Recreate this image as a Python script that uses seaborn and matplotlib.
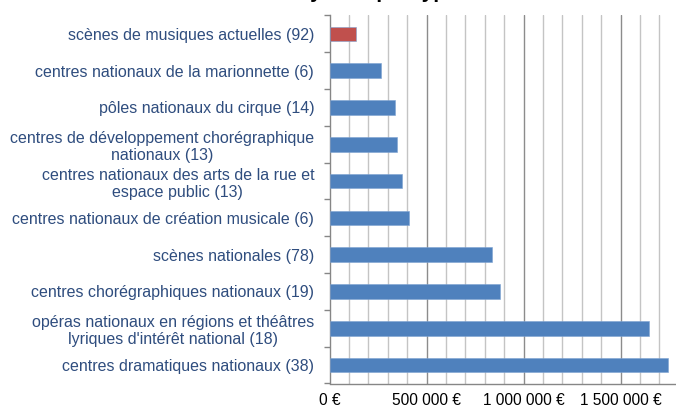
import matplotlib
matplotlib.use("Agg")
import matplotlib.pyplot as plt
import matplotlib.ticker as ticker
import numpy as np
import pandas as pd
import seaborn as sns

categories = [
    "scènes de musiques actuelles (92)",
    "centres nationaux de la marionnette (6)",
    "pôles nationaux du cirque (14)",
    "centres de développement chorégraphique\nnationaux (13)",
    "centres nationaux des arts de la rue et\nespace public (13)",
    "centres nationaux de création musicale (6)",
    "scènes nationales (78)",
    "centres chorégraphiques nationaux (19)",
    "opéras nationaux en régions et théâtres\nlyriques d'intérêt national (18)",
    "centres dramatiques nationaux (38)",
]
amounts = [135000, 265000, 336000, 346000, 375000, 410000,
           836000, 879000, 1648000, 1743000]
highlight = "scènes de musiques actuelles (92)"
x_ticks = [0, 500000, 1000000, 1500000]
x_tick_labels = ["0 €", "500 000 €", "1 000 000 €", "1 500 000 €"]
title = "Subvention moyenne par type de label"

sns.set_theme(style="white")
plt.rcParams["font.family"] = ["Liberation Sans", "DejaVu Sans"]

BLUE = "#4F81BD"
RED = "#C0504D"
LABEL_COLOR = "#2F4D7E"

df = pd.DataFrame({"label": categories, "amount": amounts})
palette = {c: (RED if c == highlight else BLUE) for c in categories}

fig = plt.figure(figsize=(6.76, 4.09), dpi=100)
ax = fig.add_axes([329.5 / 676, 25.5 / 409, 1 - 329.5 / 676, (383.5 - 15.5) / 409])

sns.barplot(data=df, x="amount", y="label", hue="label", palette=palette,
            order=categories, legend=False, width=0.4, orient="h",
            saturation=1, edgecolor="#7EA3D2", linewidth=0.4, ax=ax, zorder=3)

ax.set_xlim(0, 1786000)
ax.set_ylim(len(categories) - 0.5, -0.5)

# gridlines: light every 100k, darker every 500k
ax.xaxis.set_major_locator(ticker.FixedLocator(x_ticks))
ax.xaxis.set_minor_locator(ticker.MultipleLocator(100000))
ax.set_xticklabels(x_tick_labels)
ax.grid(False)
for v in np.arange(100000, 1786000, 100000):
    major = int(round(v)) % 500000 == 0
    ax.axvline(v, color="#8C8C8C" if major else "#C4C4C4", linewidth=1.0, zorder=1)

ax.set_xlabel("")
ax.set_ylabel("")

for s in ["top", "right"]:
    ax.spines[s].set_visible(False)
for s in ["left", "bottom"]:
    ax.spines[s].set_color("#868686")
    ax.spines[s].set_linewidth(1.0)

ax.tick_params(axis="x", which="major", direction="out", length=4, width=1,
               color="#868686", pad=3, labelsize=11.2, labelcolor="black")
ax.tick_params(axis="x", which="minor", length=0)
ax.yaxis.set_minor_locator(ticker.FixedLocator(np.arange(-0.5, len(categories), 1)))
ax.tick_params(axis="y", which="minor", direction="out", length=4, width=1,
               color="#868686", left=True)
ax.tick_params(axis="y", which="major", length=0, pad=11, labelsize=11.5,
               labelcolor=LABEL_COLOR)
for t in ax.get_yticklabels():
    t.set_multialignment("center")
    t.set_linespacing(1.2)

fig.text(350 / 676, 1 + 1.5 / 409, title, ha="center", va="baseline",
         fontsize=15, fontweight="bold", color="black")

fig.savefig("out.png", dpi=100)
